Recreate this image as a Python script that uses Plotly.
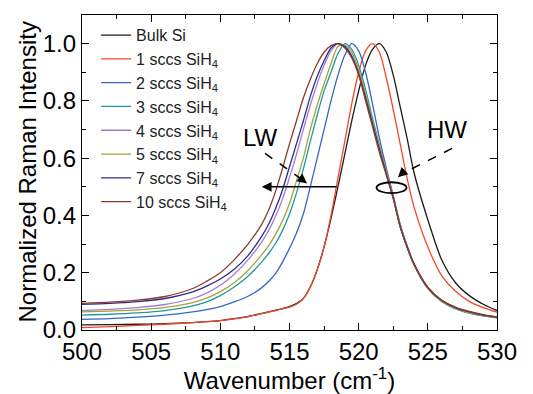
import plotly.graph_objects as go

# Shared wavenumber grid (cm^-1)
wavenumber = [500, 502, 504, 506, 508, 509, 510, 511, 512, 513, 513.5, 514, 514.5, 515, 515.5,
              516, 516.5, 517, 517.5, 518, 518.5, 519, 519.5, 520, 520.5, 521, 521.5, 522,
              522.5, 523, 523.5, 524, 525, 526, 527, 528, 529, 530]

bulk_si = [.018, .019, .020, .022, .026, .029, .033, .040, .047, .058, .063, .069, .075, .082, .092,
           .110, .150, .210, .290, .390, .500, .615, .730, .835, .925, .980, 1.000, .970,
           .890, .780, .670, .550, .385, .245, .165, .120, .090, .068]

sccs_1 = [.008, .012, .016, .020, .026, .029, .033, .039, .047, .057, .062, .068, .074, .080, .090,
          .110, .150, .210, .290, .400, .530, .660, .790, .900, .975, 1.000, .970, .880,
          .770, .650, .530, .430, .290, .190, .135, .100, .078, .062]

sccs_2 = [.037, .040, .045, .052, .063, .071, .082, .098, .118, .148, .170, .198, .238, .285, .338,
          .405, .500, .600, .700, .800, .890, .960, 1.000, .975, .900, .790, .670, .565,
          .470, .370, .295, .232, .148, .102, .076, .060, .050, .043]

sccs_3 = [.052, .055, .060, .068, .084, .098, .120, .150, .188, .238, .268, .303, .348, .405, .478,
          .562, .658, .750, .835, .900, .965, 1.000, .980, .925, .840, .740, .645, .555,
          .465, .365, .290, .228, .145, .100, .074, .059, .049, .042]

sccs_4 = [.068, .072, .078, .089, .110, .129, .156, .195, .245, .308, .348, .398, .458, .533, .613,
          .700, .785, .860, .925, .975, 1.000, .990, .960, .900, .815, .725, .635, .550,
          .465, .365, .290, .230, .148, .102, .077, .062, .051, .044]

sccs_5 = [.063, .066, .070, .079, .096, .111, .134, .165, .208, .263, .295, .335, .382, .442, .520,
          .600, .700, .785, .860, .930, .990, .995, .970, .910, .825, .730, .640, .555,
          .465, .365, .290, .228, .145, .100, .075, .060, .050, .043]

sccs_7 = [.090, .093, .099, .110, .133, .153, .178, .212, .260, .328, .370, .425, .490, .570, .650,
          .730, .815, .885, .940, .985, 1.000, .990, .955, .895, .810, .720, .630, .545,
          .460, .360, .290, .230, .148, .103, .078, .063, .052, .045]

sccs_10 = [.093, .097, .104, .117, .145, .170, .200, .245, .300, .370, .420, .485, .565, .650, .730,
           .810, .875, .930, .970, .993, 1.000, .985, .950, .890, .800, .710, .620, .540,
           .460, .360, .290, .230, .150, .105, .080, .065, .054, .046]

series_names = ["Bulk Si", "1 sccs SiH<sub>4</sub>", "2 sccs SiH<sub>4</sub>", "3 sccs SiH<sub>4</sub>",
                "4 sccs SiH<sub>4</sub>", "5 sccs SiH<sub>4</sub>", "7 sccs SiH<sub>4</sub>",
                "10 sccs SiH<sub>4</sub>"]
series_values = [bulk_si, sccs_1, sccs_2, sccs_3, sccs_4, sccs_5, sccs_7, sccs_10]
series_colors = ["#1a1a1a", "#f2482a", "#3566c8", "#1f9a9a", "#a57ccc", "#a8a040", "#2c2c86", "#8e3a2c"]

x_ticks = [500, 505, 510, 515, 520, 525, 530]
y_ticks = [0.0, 0.2, 0.4, 0.6, 0.8, 1.0]

FONT = "Arial, Liberation Sans, sans-serif"

fig = go.Figure()
for name, vals, col in zip(series_names, series_values, series_colors):
    fig.add_trace(go.Scatter(x=wavenumber, y=vals, mode="lines", name=name,
                             line=dict(color=col, width=1.3, shape="spline", smoothing=0.8)))

# Annotations: LW / HW labels, arrows, ellipse
fig.add_annotation(x=512.87, y=0.672, text="LW", showarrow=False, font=dict(size=24, color="black", family=FONT))
fig.add_annotation(x=526.39, y=0.70, text="HW", showarrow=False, font=dict(size=24, color="black", family=FONT))

# dashed arrow shafts
fig.add_shape(type="line", x0=513.23, y0=0.617, x1=516.0, y1=0.522, line=dict(color="black", width=1.5, dash="dash"))
fig.add_shape(type="line", x0=526.75, y0=0.634, x1=523.1, y1=0.545, line=dict(color="black", width=1.5, dash="dash"))
# arrowheads
fig.add_annotation(x=516.27, y=0.512, ax=516.0, ay=0.522, axref="x", ayref="y", text="", showarrow=True,
                   arrowhead=2, arrowsize=1.3, arrowwidth=1.5, arrowcolor="black")
fig.add_annotation(x=522.84, y=0.533, ax=523.1, ay=0.545, axref="x", ayref="y", text="", showarrow=True,
                   arrowhead=2, arrowsize=1.3, arrowwidth=1.5, arrowcolor="black")
# solid horizontal arrow
fig.add_annotation(x=513.0, y=0.5, ax=518.5, ay=0.5, axref="x", ayref="y", text="", showarrow=True,
                   arrowhead=2, arrowsize=1.3, arrowwidth=1.5, arrowcolor="black")
# ellipse
fig.add_shape(type="circle", x0=521.29, x1=523.46, y0=0.478, y1=0.516, line=dict(color="black", width=1.8))

# y-axis title as a rotated annotation (placed like the reference)
fig.add_annotation(xref="paper", yref="paper", x=-0.1325, y=0.5, xanchor="center", yanchor="middle",
                   text="Normalized Raman Intensity", textangle=-90, showarrow=False,
                   font=dict(size=24, color="black", family=FONT))

axis_common = dict(showline=True, linecolor="black", linewidth=1.3, mirror="allticks",
                   ticks="inside", ticklen=7, tickwidth=1.2, tickcolor="black",
                   showgrid=False, zeroline=False, automargin=False,
                   tickfont=dict(size=24, color="black", family=FONT))

fig.update_xaxes(range=[500, 530], tickvals=x_ticks, ticktext=[str(v) for v in x_ticks],
                 minor=dict(dtick=2.5, ticks="inside", ticklen=4, tickcolor="black", tickwidth=1),
                 title=dict(text="Wavenumber (cm<sup>-1</sup>)", font=dict(size=24, color="black", family=FONT), standoff=4),
                 **axis_common)
fig.update_yaxes(range=[0, 1.1], tickvals=y_ticks, ticktext=[f"{v:.1f}" for v in y_ticks],
                 minor=dict(dtick=0.1, ticks="inside", ticklen=4, tickcolor="black", tickwidth=1),
                 **axis_common)

# The page body has an 8px margin; size the figure so the plot area lands where the reference has it.
fig.update_layout(width=525, height=386, margin=dict(l=74, r=36, t=7, b=64),
                  paper_bgcolor="white", plot_bgcolor="white",
                  font=dict(family=FONT, color="black"),
                  legend=dict(x=0.034, y=0.99, xanchor="left", yanchor="top", bgcolor="rgba(0,0,0,0)",
                              font=dict(size=16, color="#222", family=FONT), itemwidth=30,
                              tracegroupgap=0))

fig.write_html("out.html")
